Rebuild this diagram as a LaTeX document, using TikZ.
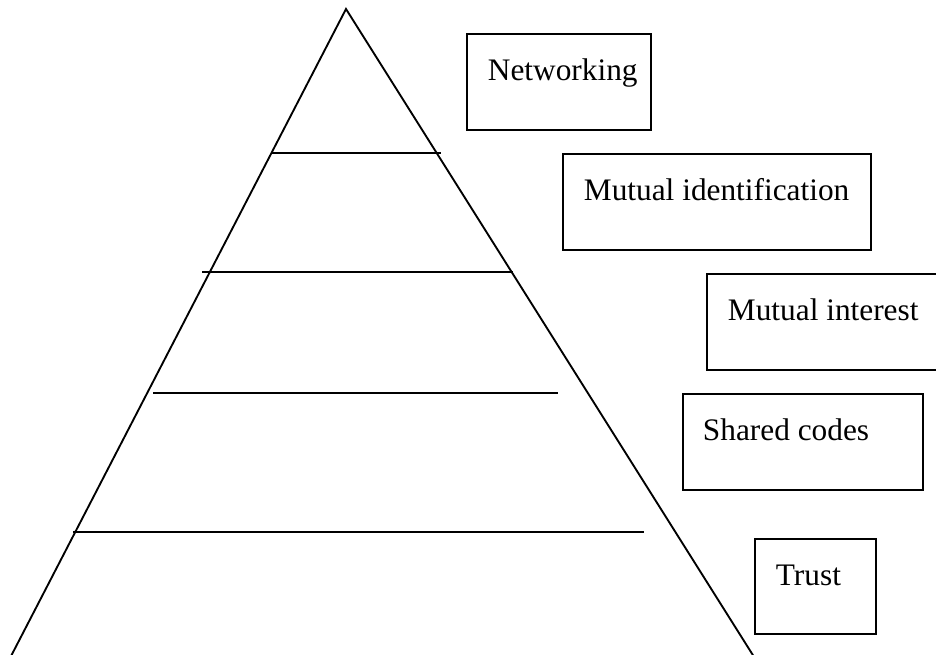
\documentclass[tikz,border=0pt]{standalone}
\usepackage{fontspec}
\setmainfont{Liberation Serif}
\usetikzlibrary{calc}

\begin{document}
\begin{tikzpicture}[x=0.75pt, y=-0.75pt, line width=1.4pt,
        tier/.style={draw, line width=1.4pt, inner sep=0pt, anchor=north west, minimum height=72pt},
        tiertext/.style={anchor=base west, inner sep=0pt, font=\fontsize{23.5}{28}\selectfont}]
        \useasboundingbox (0,0) rectangle (936,654);
        \clip (0,0) rectangle (936,654);

        % The pyramid
        \coordinate (apex) at (346,9);
        \coordinate (baseL) at (9,660);
        \coordinate (baseR) at (756,660);
        \draw (baseL) -- (apex) -- (baseR);

        % Levels across the pyramid
        \coordinate (l1a) at (272,153); \coordinate (l1b) at (441,153);
        \coordinate (l2a) at (202,272); \coordinate (l2b) at (513,272);
        \coordinate (l3a) at (153,393); \coordinate (l3b) at (558,393);
        \coordinate (l4a) at (73,532);  \coordinate (l4b) at (644,532);
        \draw (l1a) -- (l1b);
        \draw (l2a) -- (l2b);
        \draw (l3a) -- (l3b);
        \draw (l4a) -- (l4b);

        % Labels in boxes, top to bottom
        \node[tier, minimum width=138pt] (net) at (466,33) {};
        \node[tiertext] at ($(net.north west)+(21,47)$) {Networking};

        \node[tier, minimum width=231pt] (ident) at (562,153) {};
        \node[tiertext] at ($(ident.north west)+(21,47)$) {Mutual identification};

        \node[tier, minimum width=180pt] (inter) at (706,273) {};
        \node[tiertext] at ($(inter.north west)+(21,47)$) {Mutual interest};

        \node[tier, minimum width=180pt] (codes) at (682,393) {};
        \node[tiertext] at ($(codes.north west)+(20,47)$) {Shared codes};

        \node[tier, minimum width=90.75pt, minimum height=71.25pt] (trust) at (754,538) {};
        \node[tiertext] at ($(trust.north west)+(21,47)$) {Trust};

    \end{tikzpicture}
\end{document}
